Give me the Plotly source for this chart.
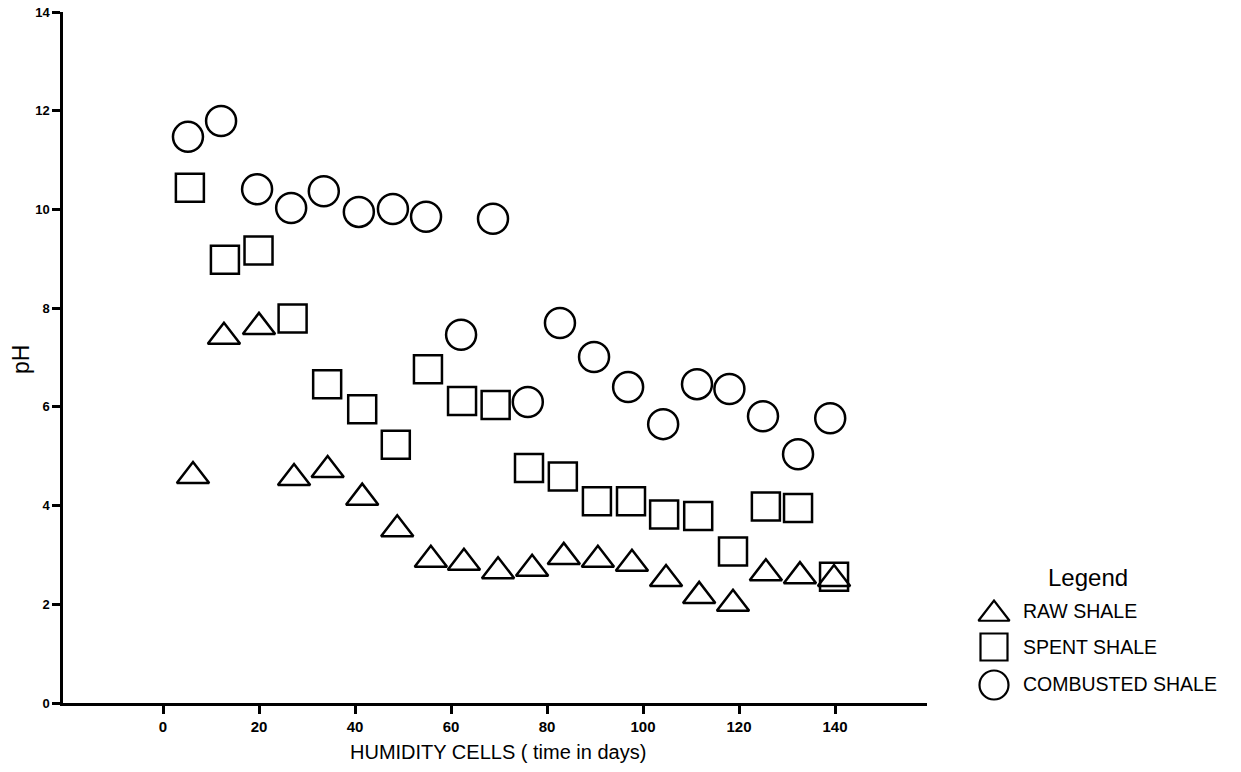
import plotly.graph_objects as go

W, H = 1241, 772

# ---- data ----
days_raw = [6.25, 12.7, 20.0, 27.3, 34.3, 41.5, 48.8, 55.8, 62.7, 69.8,
            76.9, 83.5, 90.6, 97.7, 104.8, 111.7, 118.75, 125.6, 132.7, 139.8]
ph_raw = [4.60, 7.42, 7.62, 4.56, 4.72, 4.16, 3.52, 2.90, 2.84, 2.67,
          2.72, 2.96, 2.90, 2.82, 2.51, 2.17, 2.01, 2.63, 2.57, 2.51]

days_spent = [5.6, 12.9, 19.9, 27.0, 34.2, 41.5, 48.5, 55.2, 62.3, 69.3,
              76.25, 83.3, 90.4, 97.5, 104.4, 111.5, 118.75, 125.6, 132.3, 139.8]
ph_spent = [10.44, 8.98, 9.17, 7.79, 6.46, 5.95, 5.23, 6.76, 6.12, 6.04,
            4.76, 4.59, 4.09, 4.09, 3.82, 3.79, 3.07, 3.98, 3.95, 2.56]

days_comb = [5.2, 12.1, 19.6, 26.7, 33.5, 40.8, 47.9, 54.8, 62.1, 68.75,
             76.0, 82.7, 89.8, 96.9, 104.2, 111.25, 118.0, 125.0, 132.3, 139.0]
ph_comb = [11.47, 11.79, 10.41, 10.03, 10.37, 9.95, 10.01, 9.85, 7.46, 9.81,
           6.10, 7.70, 7.01, 6.40, 5.65, 6.46, 6.36, 5.81, 5.04, 5.77]

x_ticks = [0, 20, 40, 60, 80, 100, 120, 140]
y_ticks = [0, 2, 4, 6, 8, 10, 12, 14]

series_names = ["RAW SHALE", "SPENT SHALE", "COMBUSTED SHALE"]
series_symbols = ["triangle-up-open", "square-open", "circle-open"]
series_sizes = [28, 28, 30]

x_title = "HUMIDITY CELLS ( time in days)"
y_title = "pH"
legend_title = "Legend"

# ---- layout geometry (pixels) ----
L, R, T, B = 63, 927, 12, 703
FONT = "Liberation Sans, Arial, sans-serif"
INK = "black"
LW = 2.5

fig = go.Figure()

for xs, ys, name, sym, sz in zip([days_raw, days_spent, days_comb],
                                 [ph_raw, ph_spent, ph_comb],
                                 series_names, series_symbols, series_sizes):
    fig.add_trace(go.Scatter(
        x=xs, y=ys, mode="markers", name=name, showlegend=False,
        marker=dict(symbol=sym, size=sz, color=INK, line=dict(width=LW, color=INK)),
        xaxis="x", yaxis="y"))

# manual legend on a pixel-based overlay axis
leg_sym_x = 994
leg_txt_x = 1021
leg_rows = [614, 647, 685]
leg_sizes = [27, 27, 29]
for name, sym, yy, sz in zip(series_names, series_symbols, leg_rows, leg_sizes):
    fig.add_trace(go.Scatter(
        x=[leg_sym_x], y=[yy], mode="markers", showlegend=False, hoverinfo="skip",
        marker=dict(symbol=sym, size=sz, color=INK, line=dict(width=2.2, color=INK)),
        xaxis="x2", yaxis="y2"))

annotations = []
annotations.append(dict(x=1088, y=577, xref="x2", yref="y2", text=legend_title,
                        showarrow=False, xanchor="center", yanchor="middle",
                        font=dict(family=FONT, size=24, color=INK)))
for name, yy in zip(series_names, [611, 647, 684]):
    annotations.append(dict(x=leg_txt_x, y=yy, xref="x2", yref="y2", text=name,
                            showarrow=False, xanchor="left", yanchor="middle",
                            font=dict(family=FONT, size=19.5, color=INK)))
annotations.append(dict(x=498, y=752, xref="x2", yref="y2", text=x_title,
                        showarrow=False, xanchor="center", yanchor="middle",
                        font=dict(family=FONT, size=20, color=INK)))
annotations.append(dict(x=21, y=360, xref="x2", yref="y2", text=y_title, textangle=-90,
                        showarrow=False, xanchor="center", yanchor="middle",
                        font=dict(family=FONT, size=23, color=INK)))

px_per_day = 4.8
x0_px = 163
x_range = [(L - x0_px) / px_per_day, (R - x0_px) / px_per_day]

fig.update_layout(
    width=W, height=H, autosize=False,
    margin=dict(l=0, r=0, t=0, b=0, pad=0),
    paper_bgcolor="white", plot_bgcolor="rgba(0,0,0,0)",
    showlegend=False,
    font=dict(family=FONT, color=INK),
    xaxis=dict(domain=[L / W, R / W], range=x_range, anchor="y",
               showline=True, linewidth=LW, linecolor=INK,
               ticks="outside", ticklen=8, tickwidth=LW, tickcolor=INK,
               tickvals=x_ticks, ticktext=[str(v) for v in x_ticks],
               tickfont=dict(family=FONT, size=15, color=INK, weight="bold"),
               showgrid=False, zeroline=False, automargin=False),
    yaxis=dict(domain=[1 - B / H, 1 - T / H], range=[0, 14], anchor="x",
               showline=True, linewidth=LW, linecolor=INK,
               ticks="outside", ticklen=8, tickwidth=LW, tickcolor=INK,
               tickvals=y_ticks, ticktext=[str(v) for v in y_ticks],
               tickfont=dict(family=FONT, size=13, color=INK, weight="bold"),
               showgrid=False, zeroline=False, automargin=False),
    xaxis2=dict(domain=[0, 1], range=[0, W], anchor="y2", visible=False,
                showgrid=False, zeroline=False, fixedrange=True),
    yaxis2=dict(domain=[0, 1], range=[H, 0], anchor="x2", visible=False,
                showgrid=False, zeroline=False, fixedrange=True),
    annotations=annotations,
)

fig.write_html("out.html", config={"displayModeBar": False},
               post_script="document.body.style.margin='0';document.body.style.padding='0';")
